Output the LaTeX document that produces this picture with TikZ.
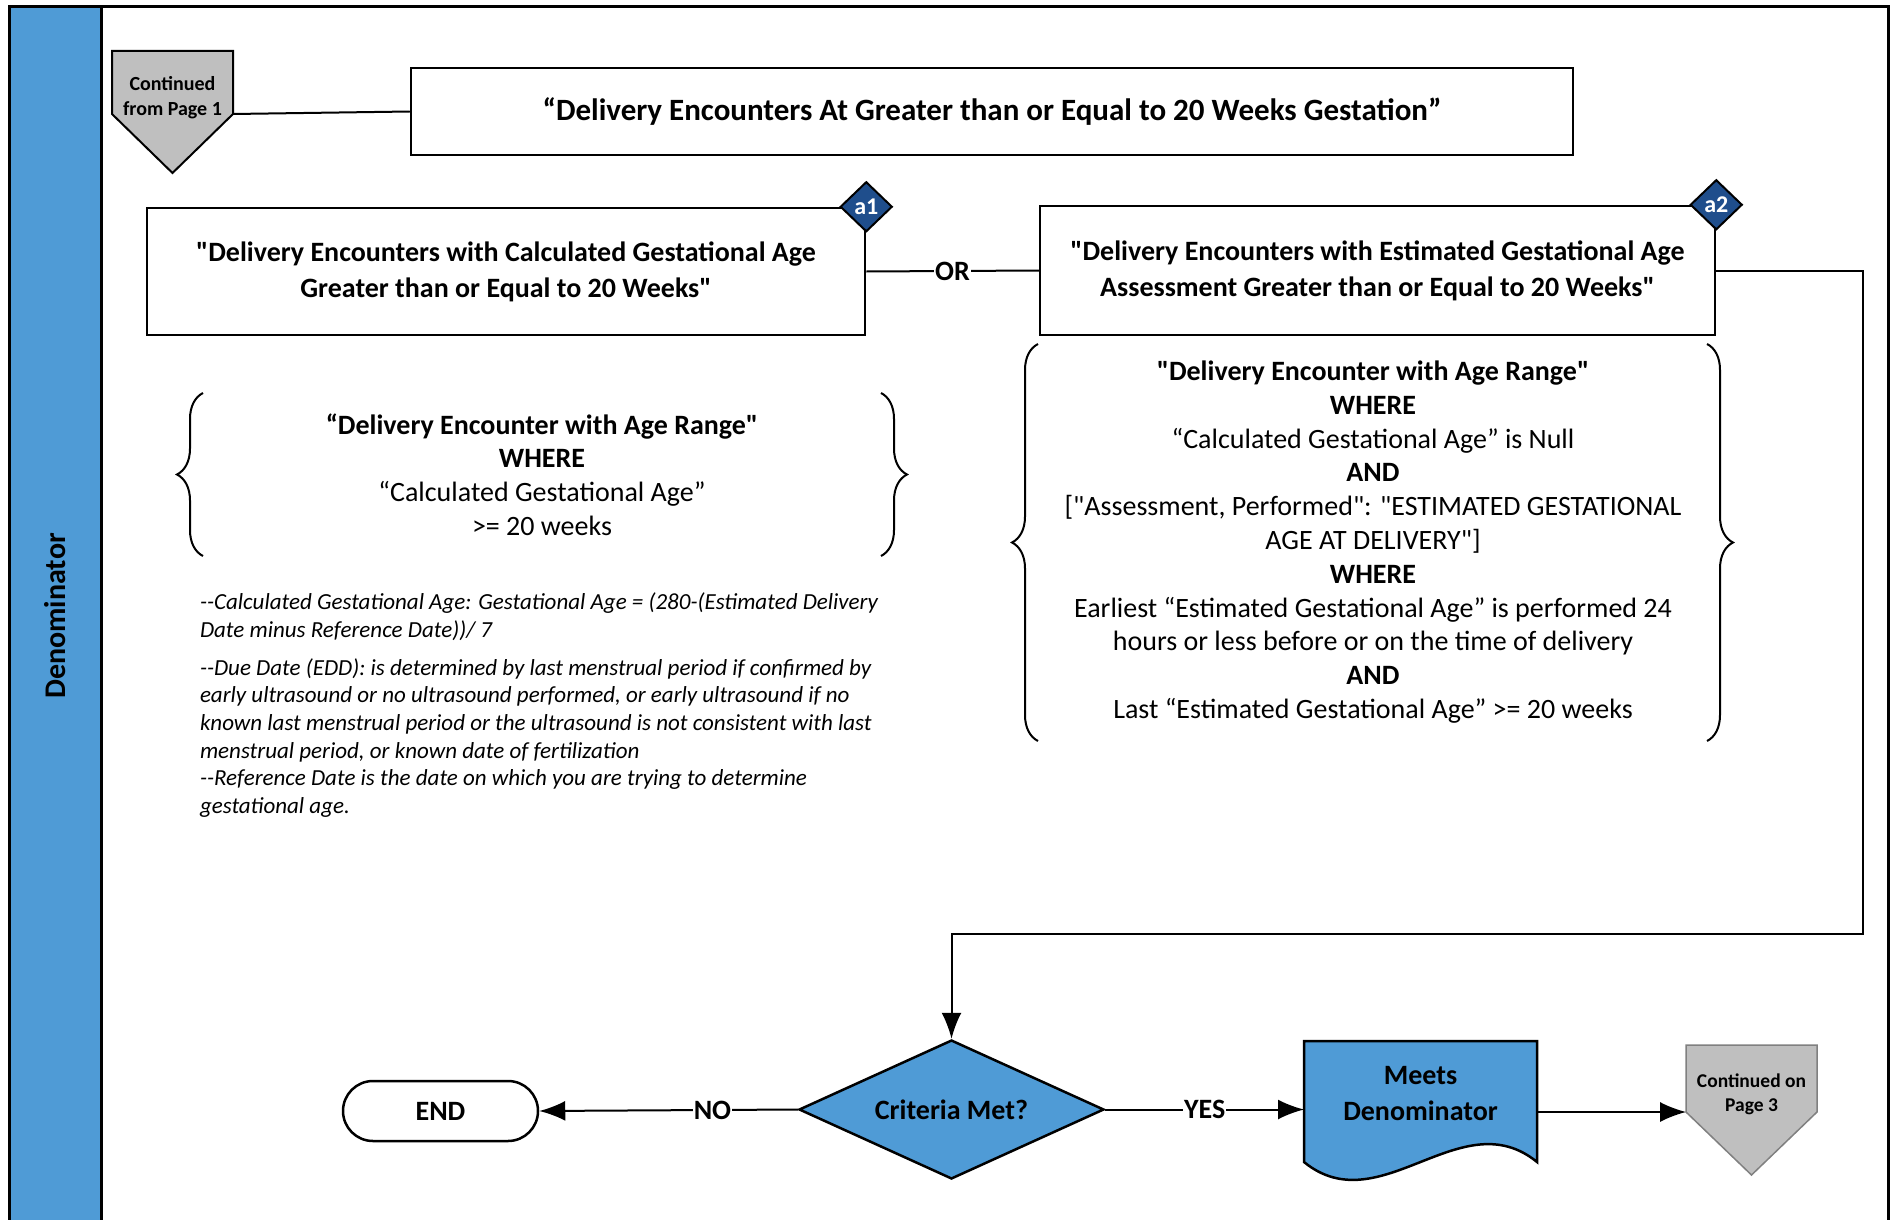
\documentclass[tikz,border=0pt]{standalone}
\usepackage{fontspec}
\setmainfont{Carlito}
\usetikzlibrary{shapes, calc, arrows.meta, positioning, decorations.pathreplacing, backgrounds}

\definecolor{lane}{RGB}{79,155,214}
\definecolor{tagblue}{RGB}{31,78,140}
\definecolor{pagegray}{RGB}{191,191,191}
\newcommand{\dq}{\textquotedbl}

\tikzset{
    box/.style={draw, line width=2.5pt, align=center},
    boldtxt/.style={font=\fontsize{28}{36}\selectfont\bfseries},
    plaintxt/.style={font=\fontsize{28}{33.8}\selectfont, align=center},
    tag/.style={diamond, draw, line width=2pt, fill=tagblue, text=white, minimum width=52pt, minimum height=50pt, inner sep=0pt, font=\fontsize{24}{28}\selectfont\bfseries},
    curly/.style={decorate, decoration={brace, amplitude=26pt}, line width=2pt},
    pagetxt/.style={align=center, font=\fontsize{20}{24.5}\selectfont\bfseries},
    edgelabel/.style={fill=white, inner sep=1pt, font=\fontsize{28}{34}\selectfont\bfseries}
}

\begin{document}
\begin{tikzpicture}[x=1pt, y=-1pt, >={Latex[length=26pt,width=20pt]}, line width=2pt]
    \useasboundingbox (0,0) rectangle (1892,1220);

    % swim lane
    \fill[lane] (9,7) rectangle (101,1240);
    \draw[line width=3pt] (9,1240) -- (9,7) -- (1888,7) -- (1888,1240);
    \draw[line width=3pt] (101,7) -- (101,1240);
    \node[rotate=90, font=\fontsize{30}{36}\selectfont\bfseries] at (55,616) (lanename) {Denominator};

    % off-page connector in
    \node[minimum width=119pt, minimum height=61pt, inner sep=0pt] at (172.5,82.5) (cont1) {};
    \filldraw[fill=pagegray, line width=2pt] (cont1.north west) -- (cont1.north east) -- (cont1.south east)
        -- ($(cont1.south)+(0,59)$) -- (cont1.south west) -- cycle;
    \node[pagetxt] at (172.5,97.5) (cont1txt) {Continued\\from Page 1};

    \node[box, minimum width=1162pt, minimum height=87pt, font=\fontsize{31}{37}\selectfont\bfseries] at (992,111.5) (title) {“Delivery Encounters At Greater than or Equal to 20 Weeks Gestation”};
    \draw (cont1.south east) -- (title.west);

    \node[box, minimum width=718pt, minimum height=127pt, boldtxt] at (506,271.5) (calcga) {\dq Delivery Encounters with Calculated Gestational Age\\Greater than or Equal to 20 Weeks\dq};
    \node[box, minimum width=675pt, minimum height=129pt, boldtxt] at (1377.5,270.5) (estga) {\dq Delivery Encounters with Estimated Gestational Age\\Assessment Greater than or Equal to 20 Weeks\dq};
    \node[tag] at (calcga.north east) (tag1) {a1};
    \node[tag] at (estga.north east) (tag2) {a2};
    \draw (calcga.east) -- node[edgelabel] (or) {OR} (estga.west);

    % definitions under a1
    \draw[curly] (203,556) -- (203,393);
    \draw[curly] (881,393) -- (881,556);
    \node[plaintxt] at (542,474.5) (calcdef) {{\bfseries “Delivery Encounter with Age Range\dq}\\{\bfseries WHERE}\\“Calculated Gestational Age”\\>= 20 weeks};

    \node[anchor=north west, inner sep=0pt, align=left, font=\fontsize{23}{27.7}\selectfont\itshape] at (199,592) (notes) {-{}-Calculated Gestational Age: Gestational Age = (280-(Estimated Delivery\\
        Date minus Reference Date))/ 7\\[10pt]
        -{}-Due Date (EDD): is determined by last menstrual period if confirmed by\\
        early ultrasound or no ultrasound performed, or early ultrasound if no\\
        known last menstrual period or the ultrasound is not consistent with last\\
        menstrual period, or known date of fertilization\\
        -{}-Reference Date is the date on which you are trying to determine\\
        gestational age.};

    % definitions under a2
    \draw[curly] (1038,741) -- (1038,344);
    \draw[curly] (1707,344) -- (1707,741);
    \node[plaintxt] at (1373,542) (estdef) {{\bfseries \dq Delivery Encounter with Age Range\dq}\\{\bfseries WHERE}\\“Calculated Gestational Age” is Null\\{\bfseries AND}\\
        {[}\dq Assessment, Performed\dq: \dq ESTIMATED GESTATIONAL\\AGE AT DELIVERY\dq]\\{\bfseries WHERE}\\
        Earliest “Estimated Gestational Age” is performed 24\\hours or less before or on the time of delivery\\{\bfseries AND}\\
        Last “Estimated Gestational Age” >= 20 weeks};

    % decision row
    \node[diamond, draw, line width=2.5pt, fill=lane, aspect=2.2, minimum width=305pt, minimum height=139pt, inner sep=0pt, boldtxt] at (951.5,1109.5) (crit) {Criteria Met?};
    \node[draw, line width=2.5pt, rounded corners=30pt, minimum width=195pt, minimum height=60pt, boldtxt] at (440.5,1111) (end) {END};
    \node[minimum width=231pt, minimum height=103pt, align=center, boldtxt] at (1420.5,1093.5) (meets) {Meets\\Denominator};
    \begin{scope}[on background layer]
        \filldraw[fill=lane, line width=2.5pt] (meets.north west) -- (meets.north east) -- ++(0,121)
            .. controls +(-76,-62) and +(76,62) .. ($(meets.north west)+(0,121)$) -- cycle;
    \end{scope}

    \coordinate (turn) at (1863,934);
    \draw[->] (estga.east) -| (turn) -| (crit.north);
    \draw[->] (crit.west) -- node[pos=0.33, edgelabel] (no) {NO} (end.east);
    \draw[->] (crit.east) -- node[edgelabel] (yes) {YES} (crit.east -| meets.west);

    % off-page connector out
    \node[minimum width=129pt, minimum height=65pt, inner sep=0pt] at (1751.5,1078.5) (cont3) {};
    \filldraw[fill=pagegray, draw=gray, line width=1.5pt] (cont3.north west) -- (cont3.north east) -- (cont3.south east)
        -- ($(cont3.south)+(0,63)$) -- (cont3.south west) -- cycle;
    \node[pagetxt, font=\fontsize{19.5}{23.5}\selectfont\bfseries] at (1751.5,1094.5) (cont3txt) {Continued on\\Page 3};
    \draw[->, line width=1.5pt] (meets.east |- cont3.south west) -- (cont3.south west);
\end{tikzpicture}
\end{document}
